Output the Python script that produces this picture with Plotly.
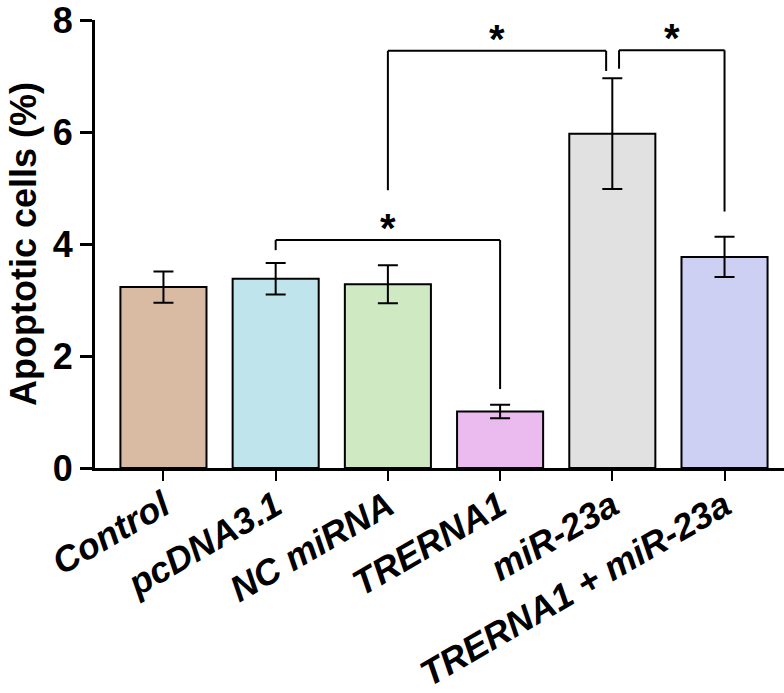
import plotly.graph_objects as go

categories = ["Control", "pcDNA3.1", "NC miRNA", "TRERNA1", "miR-23a", "TRERNA1 + miR-23a"]
values = [3.23, 3.38, 3.28, 1.01, 5.97, 3.77]
errors = [0.28, 0.28, 0.34, 0.12, 0.99, 0.36]
colors = ["#D9BBA3", "#C0E4EC", "#CFEAC3", "#EBBAEE", "#E1E1E1", "#CDCFF3"]
y_ticks = [0, 2, 4, 6, 8]

# significance brackets: (left index, right index, bar height, left end, right end, left dx, right dx, label)
brackets = [
    (1, 3, 4.07, 3.89, 1.41, 0.0, 0.0, "*"),
    (2, 4, 7.45, 4.96, 7.09, 0.0, -0.055, "*"),
    (4, 5, 7.46, 7.13, 4.58, 0.06, 0.0, "*"),
]

FONT = "Arial, 'Liberation Sans', Helvetica, sans-serif"

fig = go.Figure()
fig.add_trace(go.Bar(
    x=list(range(len(categories))),
    y=values,
    width=0.767,
    marker=dict(color=colors, line=dict(color="black", width=2)),
    error_y=dict(type="data", array=errors, visible=True, color="black", thickness=2, width=10),
    showlegend=False,
))

shapes = []
annotations = []
for li, ri, h, lend, rend, ldx, rdx, lab in brackets:
    xl = li + ldx
    xr = ri + rdx
    line = dict(color="black", width=2)
    shapes.append(dict(type="line", xref="x", yref="y", x0=xl, x1=xl, y0=lend, y1=h, line=line))
    shapes.append(dict(type="line", xref="x", yref="y", x0=xl, x1=xr, y0=h, y1=h, line=line))
    shapes.append(dict(type="line", xref="x", yref="y", x0=xr, x1=xr, y0=h, y1=rend, line=line))
    annotations.append(dict(x=(xl + xr) / 2, y=h, xref="x", yref="y", text=lab, showarrow=False,
                            yanchor="bottom", yshift=-12,
                            font=dict(family=FONT, size=40, color="black", weight="bold")))

fig.update_layout(
    width=784, height=693,
    margin=dict(l=95, r=0, t=20, b=225),
    plot_bgcolor="white", paper_bgcolor="white",
    shapes=shapes, annotations=annotations,
)
fig.update_xaxes(
    range=[-0.61, 5.53],
    tickmode="array", tickvals=list(range(len(categories))), ticktext=categories,
    tickangle=-30,
    tickfont=dict(family=FONT, size=36, color="black", weight="bold", style="italic"),
    ticklabelstandoff=-10,
    showline=True, linewidth=3, linecolor="black",
    ticks="outside", ticklen=10, tickwidth=2, tickcolor="black",
    showgrid=False, zeroline=False,
)
fig.update_yaxes(
    range=[0, 8],
    tickmode="array", tickvals=y_ticks,
    tickfont=dict(family=FONT, size=36, color="black", weight="bold"),
    ticklabeloverflow="allow",
    showline=True, linewidth=3, linecolor="black",
    ticks="outside", ticklen=12, tickwidth=3, tickcolor="black",
    showgrid=False, zeroline=False,
    title=dict(text="Apoptotic cells (%)", font=dict(family=FONT, size=36, color="black", weight="bold"), standoff=6),
)

fig.write_html("out.html")
